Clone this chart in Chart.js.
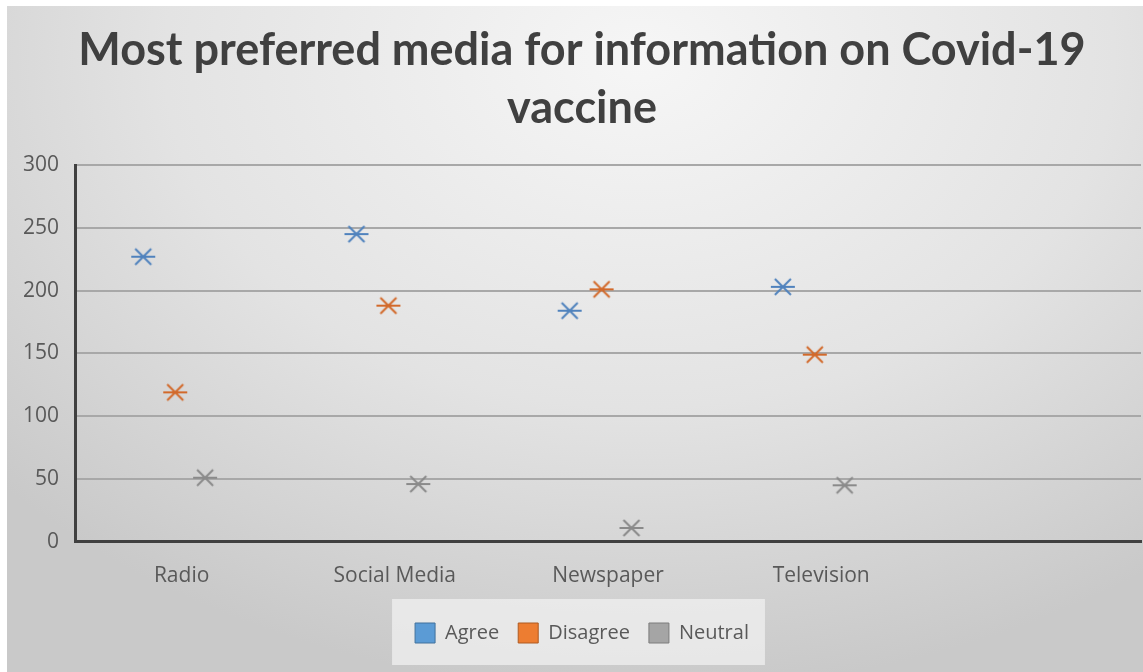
<!DOCTYPE html>
<html>
<head>
<meta charset="utf-8">
<script src="https://cdn.jsdelivr.net/npm/chart.js@4"></script>
<style>
  html, body { margin: 0; background: #fff; overflow: hidden; }
  #wrap {
    position: absolute; left: 7px; top: 6px; width: 1150px; height: 666px;
    background: radial-gradient(ellipse 75% 95% at 55% 8%, #f6f6f6 0%, #e3e3e3 55%, #c9c9c9 100%);
  }
</style>
</head>
<body>
<div id="wrap"><canvas id="chart" width="1150" height="666"></canvas></div>
<script>
// data
const categories = ['Radio', 'Social Media', 'Newspaper', 'Television'];
const agree = [227, 245, 184, 203];
const disagree = [119, 188, 201, 149];
const neutral = [51, 46, 11, 45];
const yTicks = [0, 50, 100, 150, 200, 250, 300];

// star-ish marker: an X with a horizontal bar through it
function makeMarker(color) {
    const c = document.createElement('canvas');
    c.width = 28; c.height = 22;
    const g = c.getContext('2d');
    g.strokeStyle = color;
    g.lineWidth = 2;
    g.beginPath();
    g.moveTo(2, 11); g.lineTo(26, 11);
    g.moveTo(6, 3); g.lineTo(22, 19);
    g.moveTo(22, 3); g.lineTo(6, 19);
    g.stroke();
    return c;
}

// each series sits a bit off the category centre
function points(values, shift) {
    return values.map((v, i) => ({ x: i + 0.5 + shift, y: v }));
}

const series = [
    { label: 'Agree', values: agree, shift: -0.18, mark: '#4f82bd', fill: '#5b9bd5', edge: '#41719c' },
    { label: 'Disagree', values: disagree, shift: -0.03, mark: '#d2692a', fill: '#ed7d31', edge: '#ae5a21' },
    { label: 'Neutral', values: neutral, shift: 0.11, mark: '#8a8a8a', fill: '#a5a5a5', edge: '#7c7c7c' }
];

const legendBack = {
    id: 'legendBack',
    beforeDraw(chart) {
        const boxes = chart.legend.legendHitBoxes;
        if (!boxes || !boxes.length) return;
        const first = boxes[0], last = boxes[boxes.length - 1];
        const ctx = chart.ctx;
        ctx.save();
        ctx.fillStyle = 'rgba(240,240,240,0.75)';
        ctx.fillRect(first.left - 23, first.top + first.height / 2 - 34, last.left + last.width - first.left + 39, 66);
        ctx.restore();
    }
};

let ctx = document.getElementById('chart').getContext('2d');
let chart = new Chart(ctx, {
    type: 'scatter',
    data: {
        datasets: series.map(s => ({
            label: s.label,
            data: points(s.values, s.shift),
            pointStyle: makeMarker(s.mark),
            backgroundColor: s.fill,
            borderColor: s.edge,
            borderWidth: 1
        }))
    },
    options: {
        responsive: false,
        animation: false,
        layout: { padding: { left: 0, right: 0, top: 0, bottom: 19 } },
        plugins: {
            title: {
                display: true,
                text: ['Most preferred media for information on Covid-19', 'vaccine'],
                color: '#404040',
                font: { family: 'Lato', size: 45, weight: 'bold', lineHeight: 1.3 },
                padding: { top: 15, bottom: 27 }
            },
            legend: {
                position: 'bottom',
                labels: {
                    boxWidth: 20, boxHeight: 20,
                    color: '#595959',
                    font: { family: 'Open Sans', size: 20 },
                    padding: 19
                }
            },
            tooltip: { enabled: false }
        },
        scales: {
            x: {
                type: 'linear',
                min: 0, max: 5,
                afterBuildTicks: axis => { axis.ticks = categories.map((c, i) => ({ value: i + 0.5 })); },
                afterFit: axis => { axis.height += 1; },
                ticks: {
                    callback: (v, i) => categories[i],
                    color: '#595959',
                    font: { family: 'Open Sans', size: 21 },
                    padding: 14,
                    maxRotation: 0
                },
                grid: { display: false },
                border: { color: '#404040', width: 3 }
            },
            y: {
                min: 0, max: 300,
                afterBuildTicks: axis => { axis.ticks = yTicks.map(v => ({ value: v })); },
                ticks: {
                    color: '#595959',
                    font: { family: 'Open Sans', size: 21 },
                    padding: 16
                },
                grid: { color: '#a8a8a8', lineWidth: 2, drawTicks: false },
                border: { color: '#404040', width: 3 }
            },
            // empty right-hand spacer so the plot stops short of the edge
            spacer: {
                position: 'right',
                min: 0, max: 1,
                ticks: { display: false },
                grid: { display: false, drawTicks: false },
                border: { display: false },
                afterFit: axis => { axis.width = 16; }
            }
        }
    },
    plugins: [legendBack]
});
</script>
</body>
</html>
